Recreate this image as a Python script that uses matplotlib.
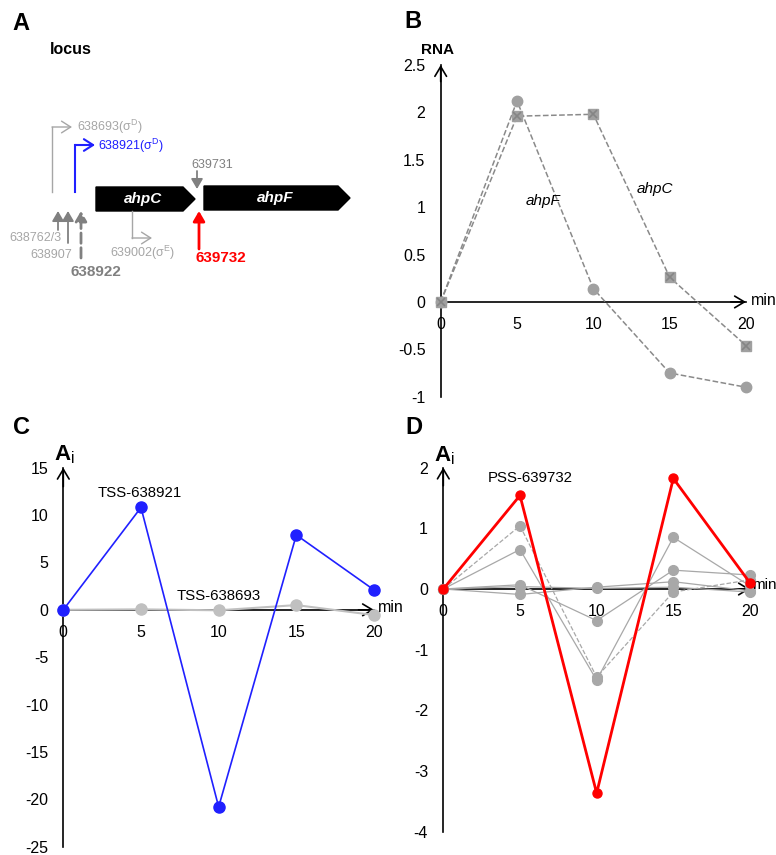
import matplotlib
matplotlib.use("Agg")
import matplotlib.pyplot as plt
from matplotlib.patches import Polygon

plt.rcParams['font.family'] = ['Liberation Sans', 'DejaVu Sans']
plt.rcParams['mathtext.fontset'] = 'custom'
plt.rcParams['mathtext.rm'] = 'Liberation Sans'
plt.rcParams['mathtext.bf'] = 'Liberation Sans:bold'
plt.rcParams['mathtext.it'] = 'Liberation Sans:italic'

# ---------------- data ----------------
minutes = [0, 5, 10, 15, 20]
x_ticks = [0, 5, 10, 15, 20]

# panel B: RNA
ahpF = [0, 2.12, 0.14, -0.75, -0.90]
ahpC = [0, 1.96, 1.98, 0.26, -0.46]
b_yticks = [-1, -0.5, 0, 0.5, 1, 1.5, 2, 2.5]
b_ylabels = ['-1', '-0.5', '0', '0.5', '1', '1.5', '2', '2.5']

# panel C: TSS activities
tss_638921 = [0, 10.8, -20.8, 7.9, 2.1]
tss_638693 = [0, 0.05, -0.05, 0.5, -0.55]
c_yticks = [-25, -20, -15, -10, -5, 0, 5, 10, 15]

# panel D: PSS activities
pss_639732 = [0, 1.54, -3.36, 1.82, 0.10]
pss_gray_solid = [
    [0, 0.65, -1.50, 0.85, 0.05],
    [0, 0.07, -0.52, 0.31, 0.23],
    [0, -0.09, 0.03, 0.12, -0.03],
    [0, 0.04, 0.01, 0.03, -0.05],
]
pss_gray_dashed = [0, 1.04, -1.45, -0.05, 0.15]
d_yticks = [-4, -3, -2, -1, 0, 1, 2]

W, H = 776, 855
fig = plt.figure(figsize=(W / 100, H / 100), dpi=100)


def rect(xpx0, xpx1, ya_px, ya, yb_px, yb, xlim, ylim):
    sx = (xpx1 - xpx0) / 20.0
    sy = (yb_px - ya_px) / (ya - yb)
    left = xpx0 + xlim[0] * sx
    right = xpx0 + xlim[1] * sx
    top = ya_px + (ya - ylim[1]) * sy
    bottom = ya_px + (ya - ylim[0]) * sy
    return [left / W, 1 - bottom / H, (right - left) / W, (bottom - top) / H]


def arrow_axes(ax, ymin, ymax, yticks, ylabels=None):
    for s in ['top', 'right']:
        ax.spines[s].set_visible(False)
    ax.spines['left'].set_position(('data', 0))
    ax.spines['bottom'].set_position(('data', 0))
    ax.spines['left'].set_bounds(ymin, ymax)
    ax.spines['bottom'].set_bounds(0, 20)
    for s in ['left', 'bottom']:
        ax.spines[s].set_linewidth(1.2)
        ax.spines[s].set_zorder(1)
    ax.set_xticks(x_ticks)
    ax.set_xticklabels([str(v) for v in x_ticks])
    ax.set_yticks(yticks)
    if ylabels is None:
        ylabels = [str(v) for v in yticks]
    ax.set_yticklabels(ylabels)
    ax.tick_params(length=0, labelsize=11.5, pad=11)
    ax.patch.set_visible(False)
    ap = dict(arrowstyle='->, head_length=0.5, head_width=0.3', lw=1.2,
              color='black', shrinkA=0, shrinkB=0, mutation_scale=14)
    ax.annotate('', xy=(0, ymax), xytext=(0, ymax - (ymax - ymin) * 0.05),
                arrowprops=ap)
    ax.annotate('', xy=(20, 0), xytext=(19, 0), arrowprops=ap)


# ---------------- panel A ----------------
axA = fig.add_axes([0, 1 - 300 / H, 390 / W, 300 / H])
axA.set_xlim(0, 390)
axA.set_ylim(300, 0)
axA.axis('off')

lgray = '#a6a6a6'
mgray = '#808080'
blue = '#2020ff'
red = '#ff0000'
open_head = '->, head_length=0.55, head_width=0.35'
fill_head = '-|>, head_length=0.6, head_width=0.35'
small = 9

fig.text(20.5 / W, 1 - 23 / H, 'A', fontsize=17, fontweight='bold', ha='center', va='center')
axA.text(50, 50, 'locus', fontsize=11.5, fontweight='bold', ha='left', va='center')

# bent TSS arrows (x, y_start, y_turn, x_end)
tss_arrows = [(52, 192, 127, 72, lgray, 1.0), (75, 192, 145, 95, blue, 1.5)]
for x, y0, y1, x1, c, lw in tss_arrows:
    axA.plot([x, x], [y0, y1], color=c, lw=lw, solid_capstyle='projecting')
    axA.annotate('', xy=(x1, y1), xytext=(x, y1),
                 arrowprops=dict(arrowstyle=open_head, color=c, lw=lw, shrinkA=0,
                                 shrinkB=0, mutation_scale=12))
axA.text(77, 127, '638693(σ$^{\\mathrm{D}}$)', color=lgray, fontsize=small,
         ha='left', va='center')
axA.text(98, 146, '638921(σ$^{\\mathrm{D}}$)', color=blue, fontsize=small,
         ha='left', va='center')

# genes
genes = [('ahpC', 96, 183, 195, 187, 211), ('ahpF', 204, 338, 350, 186, 210)]
for name, x0, xk, xt, yt, yb in genes:
    axA.add_patch(Polygon([(x0, yt), (xk, yt), (xt, (yt + yb) / 2), (xk, yb), (x0, yb)],
                          closed=True, facecolor='black', edgecolor='black'))
    axA.text((x0 + xk) / 2 + 4, (yt + yb) / 2, name, color='white', fontsize=11,
             fontweight='bold', fontstyle='italic', ha='center', va='center')

# 639731 down arrow
axA.text(212, 165, '639731', color=mgray, fontsize=small, ha='center', va='center')
axA.annotate('', xy=(197, 189), xytext=(197, 171),
             arrowprops=dict(arrowstyle=fill_head, color=mgray, lw=1.3, shrinkA=0,
                             shrinkB=0, mutation_scale=10))

# up arrows under promoter region
up_arrows = [(58, 230, '-'), (68, 243, '-'), (81, 258, '--')]
for x, y0, ls in up_arrows:
    axA.annotate('', xy=(x, 211), xytext=(x, y0),
                 arrowprops=dict(arrowstyle=fill_head, color=mgray,
                                 lw=1.3 if ls == '-' else 2.0, linestyle=ls,
                                 shrinkA=0, shrinkB=0, mutation_scale=10))
axA.text(62, 238, '638762/3', color=lgray, fontsize=small, ha='right', va='center')
axA.text(72, 255, '638907', color=lgray, fontsize=small, ha='right', va='center')
axA.text(96, 272, '638922', color=mgray, fontsize=11, fontweight='bold',
         ha='center', va='center')

# 639002 bent arrow down-right
axA.plot([132, 132], [211, 238], color=lgray, lw=1.0, solid_capstyle='projecting')
axA.annotate('', xy=(152, 238), xytext=(132, 238),
             arrowprops=dict(arrowstyle=open_head, color=lgray, lw=1.0, shrinkA=0,
                             shrinkB=0, mutation_scale=12))
axA.text(143, 253, '639002(σ$^{\\mathrm{E}}$)', color=lgray, fontsize=small,
         ha='center', va='center')

# red PSS arrow
axA.annotate('', xy=(199, 211), xytext=(199, 249),
             arrowprops=dict(arrowstyle=fill_head, color=red, lw=2.0, shrinkA=0,
                             shrinkB=0, mutation_scale=10))
axA.text(221, 258, '639732', color=red, fontsize=11, fontweight='bold',
         ha='center', va='center')

# ---------------- panel B ----------------
xlB, ylB = (-2.0, 21.0), (-1.05, 2.65)
axB = fig.add_axes(rect(440.7, 746, 65, 2.5, 396.7, -1, xlB, ylB))
axB.set_xlim(*xlB)
axB.set_ylim(*ylB)
arrow_axes(axB, -1, 2.5, b_yticks, b_ylabels)
bgray = '#8a8a8a'
axB.plot(minutes, ahpF, ls='--', color=bgray, lw=1.1, marker='o', ms=7.5,
         mfc='#a0a0a0', mec='#a0a0a0', clip_on=False, zorder=3)
axB.plot(minutes, ahpC, ls='--', color=bgray, lw=1.1, marker='s', ms=7,
         mfc='#a0a0a0', mec='#a0a0a0', clip_on=False, zorder=3)
axB.plot(minutes, ahpC, ls='none', marker='x', ms=5.5, mew=1.2, color='#858585',
         clip_on=False, zorder=4)
axB.text(6.7, 1.07, 'ahpF', fontsize=11, fontstyle='italic', ha='center', va='center')
axB.text(14.0, 1.19, 'ahpC', fontsize=11, fontstyle='italic', ha='center', va='center')
axB.text(20.3, 0.01, 'min', fontsize=11.5, ha='left', va='center')
fig.text(413 / W, 1 - 22 / H, 'B', fontsize=17, fontweight='bold', ha='center', va='center')
fig.text(438 / W, 1 - 50 / H, 'RNA', fontsize=11, fontweight='bold', ha='center', va='center')

# ---------------- panel C ----------------
xlC, ylC = (-2.0, 21.0), (-25.5, 16)
axC = fig.add_axes(rect(63.3, 374, 467.7, 15, 846.7, -25, xlC, ylC))
axC.set_xlim(*xlC)
axC.set_ylim(*ylC)
arrow_axes(axC, -25, 15, c_yticks)
axC.plot(minutes, tss_638693, color='#c0c0c0', lw=1.5, marker='o', ms=8,
         clip_on=False, zorder=3)
axC.plot(minutes, tss_638921, color=blue, lw=1.2, marker='o', ms=8,
         clip_on=False, zorder=4)
axC.text(4.95, 12.3, 'TSS-638921', fontsize=10.8, ha='center', va='center')
axC.text(10.0, 1.45, 'TSS-638693', fontsize=10.8, ha='center', va='center')
axC.text(20.25, 0.2, 'min', fontsize=11.5, ha='left', va='center')
fig.text(21 / W, 1 - 427 / H, 'C', fontsize=17, fontweight='bold', ha='center', va='center')
fig.text(64 / W, 1 - 455 / H, r'$\mathbf{A}_{\mathrm{i}}$', fontsize=16,
         ha='center', va='center')

# ---------------- panel D ----------------
xlD, ylD = (-2.0, 21.0), (-4.05, 2.1)
axD = fig.add_axes(rect(443.3, 750, 467.5, 2, 832, -4, xlD, ylD))
axD.set_xlim(*xlD)
axD.set_ylim(*ylD)
arrow_axes(axD, -4, 2, d_yticks)
dgray = '#a8a8a8'
for series in pss_gray_solid:
    axD.plot(minutes, series, color=dgray, lw=0.9, marker='o', ms=7,
             clip_on=False, zorder=3)
axD.plot(minutes, pss_gray_dashed, color=dgray, lw=0.9, ls='--', marker='o', ms=7,
         clip_on=False, zorder=3)
axD.plot(minutes, pss_639732, color=red, lw=2.0, marker='o', ms=6.5,
         clip_on=False, zorder=4)
axD.text(5.65, 1.83, 'PSS-639732', fontsize=10.8, ha='center', va='center')
axD.text(20.15, 0.06, 'min', fontsize=11, ha='left', va='center')
fig.text(414 / W, 1 - 427 / H, 'D', fontsize=17, fontweight='bold', ha='center', va='center')
fig.text(444 / W, 1 - 456 / H, r'$\mathbf{A}_{\mathrm{i}}$', fontsize=16, ha='center', va='center')

fig.savefig('out.png', dpi=100)
